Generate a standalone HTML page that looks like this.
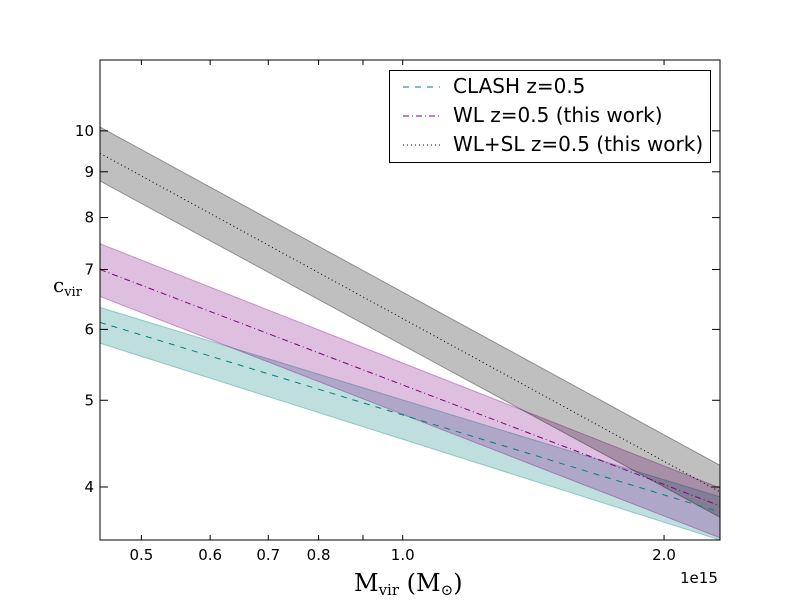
<!DOCTYPE html>
<html><head><meta charset="utf-8"><style>
body{margin:0;background:#fff}
text{font-family:"DejaVu Sans","Liberation Sans",sans-serif}
.s{font-family:"DejaVu Serif","Liberation Serif",serif}
</style></head><body>
<svg id="c" width="800" height="600" xmlns="http://www.w3.org/2000/svg"></svg>
<script>
const massEnds=[0.448,2.32];
const clashMid=[6.11,3.75], clashHi=[6.35,3.90], clashLo=[5.79,3.49];
const wlMid=[7.0,3.81], wlHi=[7.48,3.99], wlLo=[6.53,3.51];
const wlslMid=[9.44,3.95], wlslHi=[10.1,4.23], wlslLo=[8.79,3.70];
const xTicks=[0.5,0.6,0.7,0.8,0.9,1.0,2.0];
const xTickLabels=["0.5","0.6","0.7","0.8","","1.0","2.0"];
const yTicks=[4,5,6,7,8,9,10];
const yTickLabels=["4","5","6","7","8","9","10"];
const L=100,R=720,T=60,B=540;
const xmin=0.448,xmax=2.32,ymin=3.49,ymax=12.0;
const X=v=>L+(Math.log10(v)-Math.log10(xmin))/(Math.log10(xmax)-Math.log10(xmin))*(R-L);
const Y=v=>B-(Math.log10(v)-Math.log10(ymin))/(Math.log10(ymax)-Math.log10(ymin))*(B-T);
const svg=document.getElementById('c');const NS='http://www.w3.org/2000/svg';
function el(t,a,p){const e=document.createElementNS(NS,t);for(const k in a)e.setAttribute(k,a[k]);(p||svg).appendChild(e);return e;}
const clip=el('clipPath',{id:'cp'});el('rect',{x:L,y:T,width:R-L,height:B-T},clip);
const g=el('g',{'clip-path':'url(#cp)'});
function band(hi,lo,fill,stroke,name){
 const d=`M${X(massEnds[0])},${Y(hi[0])}L${X(massEnds[1])},${Y(hi[1])}L${X(massEnds[1])},${Y(lo[1])}L${X(massEnds[0])},${Y(lo[0])}Z`;
 const p=el('path',{d,fill,'fill-opacity':0.25,stroke,'stroke-opacity':0.35,'stroke-width':1},g);
 
 
}
function line(m,color,dash,name){
 const p=el('line',{x1:X(massEnds[0]),y1:Y(m[0]),x2:X(massEnds[1]),y2:Y(m[1]),stroke:color,'stroke-width':1,'stroke-dasharray':dash},g);
 
 
}
band(clashHi,clashLo,'#008080','#008080','clash-band');
band(wlHi,wlLo,'#800080','#800080','wl-band');
band(wlslHi,wlslLo,'#000000','#000000','wlsl-band');
line(clashMid,'#008080','6,6','clash-line');
line(wlMid,'#800080','6,3,1,3','wl-line');
line(wlslMid,'#000000','1,3','wlsl-line');
const ax=el('rect',{x:L,y:T,width:R-L,height:B-T,fill:'none',stroke:'#000','stroke-width':1});

xTicks.forEach((v,i)=>{const x=X(v);
 el('line',{x1:x,y1:B,x2:x,y2:B-5,stroke:'#000'});el('line',{x1:x,y1:T,x2:x,y2:T+5,stroke:'#000'});
 const t=el('text',{x:x,y:B+20,'text-anchor':'middle','font-size':15});t.textContent=xTickLabels[i];
 });
yTicks.forEach((v,i)=>{const y=Y(v);
 el('line',{x1:L,y1:y,x2:L+8,y2:y,stroke:'#000'});el('line',{x1:R,y1:y,x2:R-8,y2:y,stroke:'#000'});
 const t=el('text',{x:L-6,y:y+5,'text-anchor':'end','font-size':15});t.textContent=yTickLabels[i];
 });
</script>
<svg width="800" height="600" style="position:absolute;left:0;top:0" xmlns="http://www.w3.org/2000/svg">
<text x="680" y="583" font-size="15">1e15</text>
<text class="s" x="354" y="591" font-size="24">M<tspan font-size="15" dy="4">vir</tspan><tspan dy="-4"> (M</tspan><tspan font-size="15" dy="4">⊙</tspan><tspan dy="-4">)</tspan></text>
<text class="s" x="53" y="292" font-size="20">c<tspan font-size="13" dy="4">vir</tspan></text>
<g>
<rect x="389.5" y="70.5" width="321" height="92" fill="#fff" stroke="#000"/>
<line x1="403" y1="87" x2="440" y2="87" stroke="#008080" stroke-dasharray="6,6"/>
<text x="453" y="93" font-size="20">CLASH z=0.5</text>
<line x1="403" y1="116" x2="440" y2="116" stroke="#800080" stroke-dasharray="6,3,1,3"/>
<text x="453" y="122" font-size="20">WL z=0.5 (this work)</text>
<line x1="403" y1="145" x2="440" y2="145" stroke="#000" stroke-dasharray="1,3"/>
<text x="453" y="151" font-size="20">WL+SL z=0.5 (this work)</text>
</g>
</svg>
</body></html>
